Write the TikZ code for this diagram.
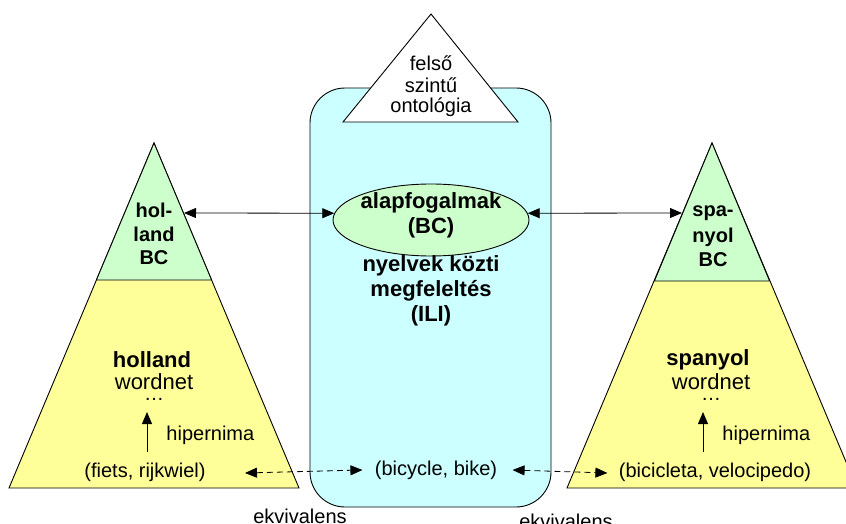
\documentclass[tikz,border=0pt]{standalone}
\usepackage{fontspec}
\setmainfont{Liberation Sans}
\usetikzlibrary{arrows.meta,shapes.geometric}
\definecolor{bcgreen}{HTML}{CCFFCC}
\definecolor{wnyellow}{HTML}{FFFF99}
\definecolor{ilicyan}{HTML}{CCFFFF}
\begin{document}
\begin{tikzpicture}[x=1pt,y=-1pt,line width=0.9pt,
  txt/.style={font=\fontsize{20}{24}\selectfont,inner sep=0pt,align=center},
  bigtxt/.style={font=\fontsize{22}{25}\selectfont,inner sep=0pt,align=center},
  bold20/.style={font=\fontsize{20}{24}\selectfont\bfseries,inner sep=0pt,align=center},
  bold22/.style={font=\fontsize{22}{25}\selectfont\bfseries,inner sep=0pt,align=center},
  biarrow/.style={{Triangle[length=12pt,width=10pt]}-{Triangle[length=12pt,width=10pt]},line width=0.8pt},
  dasharrow/.style={{Triangle[length=12pt,width=10pt]}-{Triangle[length=12pt,width=10pt]},line width=0.8pt,dash pattern=on 6pt off 4pt},
  uparrow/.style={-{Triangle[length=12pt,width=10pt]},line width=0.9pt}]
\useasboundingbox (0,0) rectangle (846,524);
\clip (0,0) rectangle (846,524);
% central ILI box
\draw[fill=ilicyan,rounded corners=35pt] (310,88) rectangle (551,507);
% top ontology triangle
\draw[fill=white,line join=miter] (343,122) -- (431,14) -- (518,122) -- cycle;
\node[txt] (felso) at (431,63) {felső};
\node[txt] (szintu) at (431,85) {szintű};
\node[txt] (onto) at (431,107) {ontológia};
% left triangle
\draw[fill=wnyellow] (9,488) -- (154,143) -- (299,488) -- cycle;
\draw[fill=bcgreen] (96.4,280) -- (154,143) -- (211.6,280) -- cycle;
% right triangle
\draw[fill=wnyellow] (567,488) -- (712,143) -- (857,488) -- cycle;
\draw[fill=bcgreen] (654.4,281) -- (712,143) -- (769.6,281) -- cycle;
% ellipse
\node[ellipse,draw,fill=bcgreen,minimum width=196pt,minimum height=72pt,inner sep=0pt] (bc) at (431,220) {};
\node[bold22] (bctext) at (431,215) {alapfogalmak\\(BC)};
\node[bold22] (ili) at (431,291) {nyelvek közti\\megfeleltés\\(ILI)};
% left texts
\node[bold20] (hol) at (154,210) {hol-};
\node[bold20] (land) at (154,234) {land};
\node[bold20] (lbc) at (154,258) {BC};
\node[bold22] (holland) at (152,360) {holland};
\node[bigtxt] (lwn) at (154,382) {wordnet};
\node[txt] (ldots) at (154,399) {…};
\node[txt,anchor=west] (lhip) at (166,435) {hipernima};
\node[txt] (fiets) at (145,472) {(fiets, rijkwiel)};
% right texts
\node[bold20] (spa) at (713,213) {spa-};
\node[bold20] (nyol) at (713,237) {nyol};
\node[bold20] (rbc) at (713,260) {BC};
\node[bold22] (spanyol) at (708,360) {spanyol};
\node[bigtxt] (rwn) at (711,382) {wordnet};
\node[txt] (rdots) at (711,399) {…};
\node[txt,anchor=west] (rhip) at (722,435) {hipernima};
\node[txt] (bicicleta) at (715,472) {(bicicleta, velocipedo)};
% middle
\node[txt] (bicycle) at (436,470) {(bicycle, bike)};
\node[txt] (ekv1) at (300,516) {ekvivalens};
\node[txt] (ekv2) at (566,521) {ekvivalens};
% coordinates
\coordinate (ledge) at (184,213);
\coordinate (redge) at (682,213);
\coordinate (lh1) at (147,452);
\coordinate (lh2) at (147,412);
\coordinate (rh1) at (703,452);
\coordinate (rh2) at (703,412);
% arrows
\draw[biarrow] (ledge) -- (bc.176);
\draw[biarrow] (bc.4) -- (redge);
\draw[uparrow] (lh1) -- (lh2);
\draw[uparrow] (rh1) -- (rh2);
\draw[dasharrow] ([xshift=39pt,yshift=-1pt]fiets.east) -- ([xshift=-12pt]bicycle.west);
\draw[dasharrow] ([xshift=15pt]bicycle.east) -- ([xshift=-11pt,yshift=-1pt]bicicleta.west);
\end{tikzpicture}
\end{document}
